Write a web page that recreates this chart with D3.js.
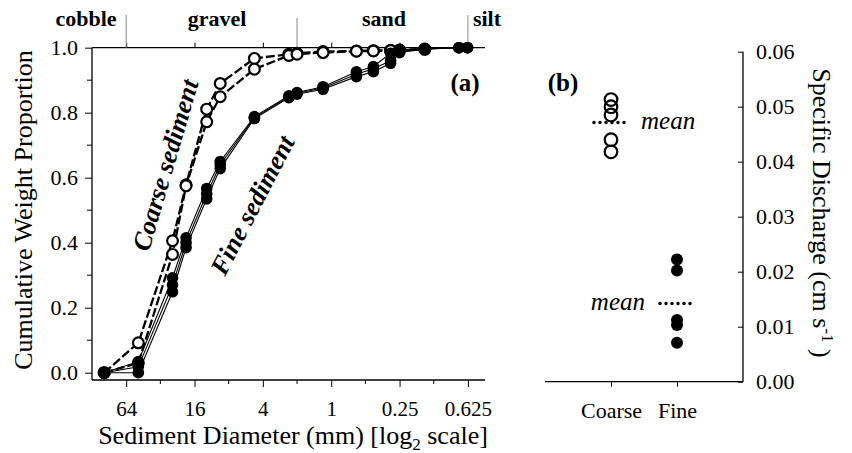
<!DOCTYPE html>
<html lang="en">
<head>
<meta charset="UTF-8">
<script src="https://d3js.org/d3.v7.min.js"></script>
<title>sediment</title>
<style>
  body { margin: 0; background: #fff; }
  svg text { font-family: "Liberation Serif", "Times New Roman", serif; fill: #000; }
</style>
</head>
<body>
<script>
// sieve sizes (mm)
const sieves = [100, 50, 25, 19, 12.5, 9.5, 4.75, 2.36, 2.0, 1.18, 0.6, 0.425, 0.3, 0.25, 0.15, 0.075, 0.063];

// cumulative weight proportion, coarse sediment (open circles, dashed)
const coarseA = [0, 0.092, 0.406, 0.578, 0.811, 0.890, 0.967, 0.980, 0.983, 0.988, 0.990, 0.991, 0.992, 0.993, 0.996, null, null];
const coarseB = [0, 0.030, 0.364, 0.575, 0.772, 0.849, 0.934, 0.976, 0.980, 0.985, 0.989, 0.990, 0.991, 0.992, 0.995, null, null];

// fine sediment (filled circles)
const fine1 = [0, 0.034, 0.292, 0.415, 0.567, 0.650, 0.788, 0.852, 0.862, 0.880, 0.926, 0.942, 0.983, 0.993, 0.997, 1.0, 1.0];
const fine2 = [0, 0.018, 0.270, 0.400, 0.550, 0.640, 0.785, 0.849, 0.860, 0.876, 0.918, 0.935, 0.960, 0.990, 0.996, 1.0, 1.0];
const fine3 = [0, 0.000, 0.249, 0.385, 0.535, 0.628, 0.782, 0.846, 0.857, 0.872, 0.911, 0.926, 0.952, 0.985, 0.995, 1.0, 1.0];

const xMajor = [64, 16, 4, 1, 0.25, 0.0625];
const xMajorLabels = ["64", "16", "4", "1", "0.25", "0.625"];
const xMinor = [32, 8, 2, 0.5, 0.125];
const yMajor = [0, 0.2, 0.4, 0.6, 0.8, 1.0];
const yMinor = [0.1, 0.3, 0.5, 0.7, 0.9];

// size classes and their boundaries (mm)
const classNames = ["cobble", "gravel", "sand", "silt"];
const classBounds = [64, 2, 0.0625];

// panel b: specific discharge (cm/s)
const groups = ["Coarse", "Fine"];
const qCoarse = [0.0513, 0.0500, 0.0485, 0.0440, 0.0418];
const qFine = [0.0222, 0.0202, 0.0112, 0.0103, 0.0071];
const qTicks = [0, 0.01, 0.02, 0.03, 0.04, 0.05, 0.06];

const width = 852, height = 453;
const svg = d3.select("body").append("svg")
    .attr("width", width).attr("height", height);

// ---------- panel (a) ----------
const x = d3.scaleLog().base(2).domain([128, Math.pow(2, -4.5)]).range([92, 485]);
const y = d3.scaleLinear().domain([0, 1]).range([372.7, 47.7]);
const axisY = 380;

const ga = svg.append("g");

// axis lines
ga.append("line").attr("x1", 92).attr("x2", 92).attr("y1", y(1)).attr("y2", axisY)
    .attr("stroke", "#000").attr("stroke-width", 1.3);
ga.append("line").attr("x1", 92).attr("x2", 485).attr("y1", axisY).attr("y2", axisY)
    .attr("stroke", "#000").attr("stroke-width", 1.3);
ga.append("line").attr("x1", 92).attr("x2", 485).attr("y1", y(1)).attr("y2", y(1))
    .attr("stroke", "#000").attr("stroke-width", 1.3);

// left axis
const yAxis = ga.append("g").attr("transform", "translate(92,0)")
    .call(d3.axisLeft(y).tickValues(yMajor).tickFormat(d3.format(".1f")).tickSize(7).tickPadding(7));
yAxis.select(".domain").remove();
yAxis.selectAll("text").style("font-size", "22px");
ga.selectAll(".yminor").data(yMinor).enter().append("line")
    .attr("x1", 87).attr("x2", 92).attr("y1", d => y(d)).attr("y2", d => y(d))
    .attr("stroke", "#000");

// bottom axis
const xAxis = ga.append("g").attr("transform", `translate(0,${axisY})`)
    .call(d3.axisBottom(x).tickValues(xMajor).tickFormat((d, i) => xMajorLabels[i]).tickSize(7));
xAxis.select(".domain").remove();
xAxis.selectAll("text").style("font-size", "21px").attr("y", 36).attr("dy", "0");
ga.selectAll(".xminor").data(xMinor).enter().append("line")
    .attr("x1", d => x(d)).attr("x2", d => x(d)).attr("y1", axisY).attr("y2", axisY + 4)
    .attr("stroke", "#000");

// top axis ticks
const topAxis = ga.append("g").attr("transform", `translate(0,${y(1)})`)
    .call(d3.axisTop(x).tickValues(xMajor).tickFormat("").tickSize(5));
topAxis.select(".domain").remove();

// class boundaries
ga.selectAll(".bound").data(classBounds).enter().append("line")
    .attr("x1", d => x(d)).attr("x2", d => x(d))
    .attr("y1", (d, i) => i === 1 ? 18 : 15).attr("y2", y(1))
    .attr("stroke", "#888").attr("stroke-width", 1);

const classX = [86, 217, 384, 487];
ga.selectAll(".cls").data(classNames).enter().append("text")
    .attr("x", (d, i) => classX[i]).attr("y", 26)
    .attr("text-anchor", "middle")
    .style("font-size", "22px").style("font-weight", "bold")
    .text(d => d);

// series
const line = d3.line()
    .defined(d => d.v !== null)
    .x(d => x(d.s)).y(d => y(d.v));
const toPts = arr => sieves.map((s, i) => ({ s: s, v: arr[i] }));

const fineSeries = [fine1, fine2, fine3];
const coarseSeries = [coarseA, coarseB];

fineSeries.forEach(arr => {
    ga.append("path").datum(toPts(arr)).attr("d", line)
        .attr("fill", "none").attr("stroke", "#000").attr("stroke-width", 1.1);
});
coarseSeries.forEach(arr => {
    ga.append("path").datum(toPts(arr)).attr("d", line)
        .attr("fill", "none").attr("stroke", "#000").attr("stroke-width", 2.3)
        .attr("stroke-dasharray", "9,3");
});
coarseSeries.forEach(arr => {
    ga.selectAll(null).data(toPts(arr).filter(d => d.v !== null)).enter().append("circle")
        .attr("cx", d => x(d.s)).attr("cy", d => y(d.v)).attr("r", 5.4)
        .attr("fill", "#fff").attr("stroke", "#000").attr("stroke-width", 2.2);
});
fineSeries.forEach(arr => {
    ga.selectAll(null).data(toPts(arr).filter(d => d.v !== null)).enter().append("circle")
        .attr("cx", d => x(d.s)).attr("cy", d => y(d.v)).attr("r", 5.8)
        .attr("fill", "#000");
});

// series labels
ga.append("text").attr("transform", "translate(165,165) rotate(-73.6)")
    .attr("text-anchor", "middle").attr("dy", "0.35em")
    .style("font-size", "26px").style("font-weight", "bold").style("font-style", "italic")
    .text("Coarse sediment");
ga.append("text").attr("transform", "translate(252,205) rotate(-62.5)")
    .attr("text-anchor", "middle").attr("dy", "0.35em")
    .style("font-size", "26px").style("font-weight", "bold").style("font-style", "italic")
    .text("Fine sediment");

ga.append("text").attr("x", 465).attr("y", 91).attr("text-anchor", "middle")
    .style("font-size", "25px").style("font-weight", "bold").text("(a)");

// axis titles
ga.append("text").attr("transform", "translate(32,210) rotate(-90)")
    .attr("text-anchor", "middle").style("font-size", "26px")
    .text("Cumulative Weight Proportion");
const xt = ga.append("text").attr("x", 293).attr("y", 444)
    .attr("text-anchor", "middle").style("font-size", "26px");
xt.append("tspan").text("Sediment Diameter (mm) [log");
xt.append("tspan").attr("dy", 6).style("font-size", "17px").text("2");
xt.append("tspan").attr("dy", -6).text(" scale]");

// ---------- panel (b) ----------
const xb = d3.scalePoint().domain(groups).range([545, 743]).padding(1);
const yb = d3.scaleLinear().domain([0, 0.06]).range([381.7, 51.7]);
const gb = svg.append("g");

gb.append("line").attr("x1", 545).attr("x2", 743).attr("y1", yb(0)).attr("y2", yb(0))
    .attr("stroke", "#000").attr("stroke-width", 1.3);
gb.append("line").attr("x1", 743).attr("x2", 743).attr("y1", yb(0.06)).attr("y2", yb(0))
    .attr("stroke", "#000").attr("stroke-width", 1.3);

const rAxis = gb.append("g").attr("transform", "translate(743,0)")
    .call(d3.axisRight(yb).tickValues(qTicks).tickFormat(d3.format(".2f")).tickSize(-5).tickPadding(13));
rAxis.select(".domain").remove();
rAxis.selectAll("text").style("font-size", "22px");

const bAxis = gb.append("g").attr("transform", `translate(0,${yb(0)})`)
    .call(d3.axisBottom(xb).tickSize(5));
bAxis.select(".domain").remove();
bAxis.selectAll("text").style("font-size", "22px").attr("y", 36).attr("dy", "0");

gb.selectAll(".qc").data(qCoarse).enter().append("circle")
    .attr("cx", xb("Coarse")).attr("cy", d => yb(d)).attr("r", 6.3)
    .attr("fill", "none").attr("stroke", "#000").attr("stroke-width", 2.2);
gb.selectAll(".qf").data(qFine).enter().append("circle")
    .attr("cx", xb("Fine")).attr("cy", d => yb(d)).attr("r", 6)
    .attr("fill", "#000");

// mean dotted lines
const means = [d3.mean(qCoarse), d3.mean(qFine)];
gb.selectAll(".mean").data(means).enter().append("line")
    .attr("x1", (d, i) => xb(groups[i]) - 17).attr("x2", (d, i) => xb(groups[i]) + 19)
    .attr("y1", d => yb(d)).attr("y2", d => yb(d))
    .attr("stroke", "#000").attr("stroke-width", 3.5)
    .attr("stroke-linecap", "round").attr("stroke-dasharray", "0,6");

gb.append("text").attr("x", 641).attr("y", yb(means[0]) + 6)
    .style("font-size", "25px").style("font-style", "italic").text("mean");
gb.append("text").attr("x", 645).attr("y", yb(means[1]) + 6).attr("text-anchor", "end")
    .style("font-size", "25px").style("font-style", "italic").text("mean");

gb.append("text").attr("x", 563).attr("y", 91).attr("text-anchor", "middle")
    .style("font-size", "25px").style("font-weight", "bold").text("(b)");

const rt = gb.append("text").attr("transform", "translate(813,213) rotate(90)")
    .attr("text-anchor", "middle").style("font-size", "26px");
rt.append("tspan").text("Specific Discharge (cm s");
rt.append("tspan").attr("dy", -9).style("font-size", "17px").text("-1");
rt.append("tspan").attr("dy", 9).text(" )");
</script>
</body>
</html>
